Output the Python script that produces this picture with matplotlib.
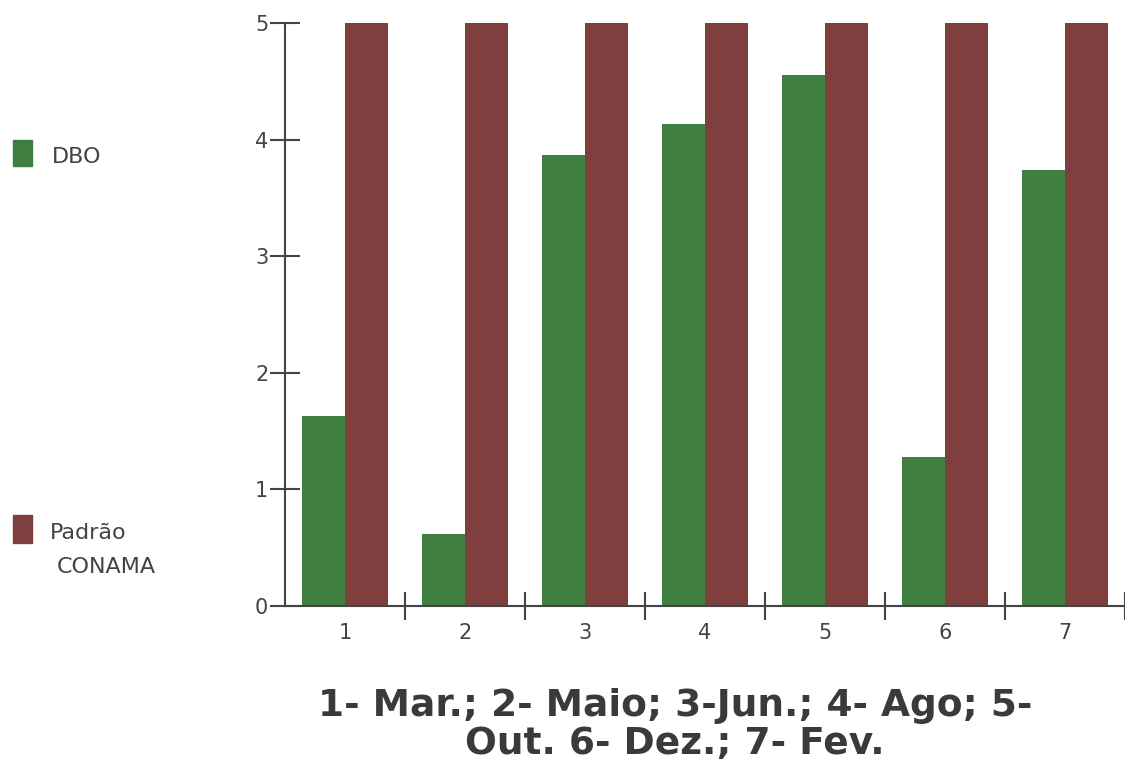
import numpy as np
import matplotlib.pyplot as plt
from matplotlib.patches import Rectangle

plt.rcParams['font.family'] = ['DejaVu Sans']

# DBO mensal x padrao CONAMA
meses = [1, 2, 3, 4, 5, 6, 7]
dbo = [1.63, 0.62, 3.87, 4.13, 4.55, 1.28, 3.74]
conama = [5, 5, 5, 5, 5, 5, 5]
titulo = "1- Mar.; 2- Maio; 3-Jun.; 4- Ago; 5-\nOut. 6- Dez.; 7- Fev."

verde = '#3f7f3f'
vinho = '#7f3f3f'
cinza = '#444444'

fig = plt.figure(figsize=(11.25, 7.67), dpi=100)
ax = fig.add_axes([0.2533, 0.2099, 0.7467, 0.7601])

x = np.array(meses)
w = 0.355
ax.bar(x - w/2, dbo, w, color=verde, edgecolor='none')
ax.bar(x + w/2, conama, w, color=vinho, edgecolor='none')

ax.set_xlim(0.5, 7.5)
ax.set_ylim(0, 5)

for s in ['top', 'right']:
    ax.spines[s].set_visible(False)
for s in ['left', 'bottom']:
    ax.spines[s].set_color(cinza)
    ax.spines[s].set_linewidth(1.5)

ax.set_yticks([0, 1, 2, 3, 4, 5])
ax.tick_params(axis='y', direction='inout', length=22, width=1.5, color=cinza,
               labelsize=15, labelcolor=cinza, pad=1)

# divisoes entre meses como ticks maiores, numeros como ticks menores
ax.set_xticks(np.arange(1.5, 8.0, 1.0))
ax.set_xticklabels([])
ax.set_xticks(x, minor=True)
ax.set_xticklabels([str(m) for m in meses], minor=True)
ax.tick_params(axis='x', which='major', direction='inout', length=20, width=1.5, color=cinza)
ax.tick_params(axis='x', which='minor', length=0, labelsize=15, labelcolor=cinza, pad=12)

# legenda a esquerda
fig.patches.append(Rectangle((13/1125, 1-166/767), 19/1125, 26/767,
                             transform=fig.transFigure, color=verde, figure=fig))
fig.patches.append(Rectangle((13/1125, 1-543/767), 19/1125, 28/767,
                             transform=fig.transFigure, color=vinho, figure=fig))
fig.text(52/1125, 1-157/767, "DBO", fontsize=16, color=cinza, va='center')
fig.text(50/1125, 1-533/767, "Padrão", fontsize=16, color=cinza, va='center')
fig.text(57/1125, 1-567/767, "CONAMA", fontsize=16, color=cinza, va='center')

fig.text(675/1125, 1-725/767, titulo, fontsize=27, fontweight='bold', color='#3a3a3a',
         ha='center', va='center', linespacing=1.05)

fig.savefig('out.png', dpi=100)
